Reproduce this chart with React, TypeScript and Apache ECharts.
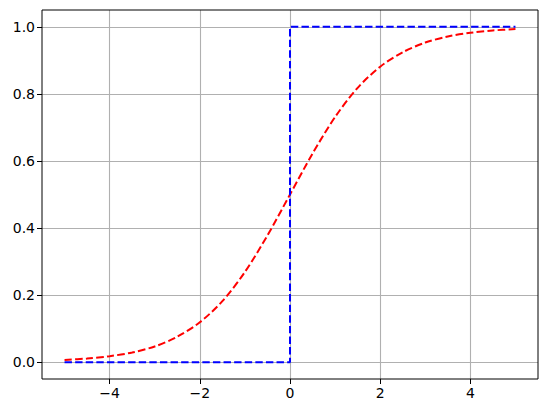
import React, { useEffect, useRef } from "react";
import * as echarts from "echarts";

const sigmoidX = [-5, -4.5, -4, -3.5, -3, -2.5, -2, -1.5, -1, -0.5, 0, 0.5, 1, 1.5, 2, 2.5, 3, 3.5, 4, 4.5, 5];
const sigmoidY = [0.007, 0.011, 0.018, 0.029, 0.047, 0.076, 0.119, 0.182, 0.269, 0.378, 0.5, 0.622, 0.731, 0.818, 0.881, 0.924, 0.953, 0.971, 0.982, 0.989, 0.993];
const stepX = [-5, 0, 0, 5];
const stepY = [0, 0, 1, 1];
const xTicks = [-4, -2, 0, 2, 4];
const yTicks = [0, 0.2, 0.4, 0.6, 0.8, 1.0];

export default function App() {
  const ref = useRef<HTMLDivElement>(null);
  useEffect(() => {
    if (!ref.current) return;
    const chart = echarts.init(ref.current, undefined, { renderer: "svg" });
    const font = "DejaVu Sans";
    chart.setOption({
      animation: false,
      backgroundColor: "#ffffff",
      grid: { left: 42, right: 9, top: 10, bottom: 34, show: true, borderColor: "#000", borderWidth: 1, backgroundColor: "transparent", z: 10 },
      xAxis: {
        type: "value",
        min: -5.5,
        max: 5.5,
        axisLine: { show: false, onZero: false },
        axisTick: { show: true, length: 5, lineStyle: { color: "#000", width: 1 }, customValues: xTicks },
        axisLabel: {
          customValues: xTicks,
          color: "#000",
          fontFamily: font,
          fontSize: 14,
          margin: 7,
          formatter: (v: number) => (v < 0 ? "\u2212" + Math.abs(v) : String(v)),
        },
        splitLine: { show: true, lineStyle: { color: "#b0b0b0", width: 1.1 } },
      },
      yAxis: {
        type: "value",
        min: -0.05,
        max: 1.05,
        axisLine: { show: false, onZero: false },
        axisTick: { show: true, length: 5, lineStyle: { color: "#000", width: 1 }, customValues: yTicks },
        axisLabel: {
          customValues: yTicks,
          color: "#000",
          fontFamily: font,
          fontSize: 14,
          margin: 7,
          formatter: (v: number) => v.toFixed(1),
        },
        splitLine: { show: true, lineStyle: { color: "#b0b0b0", width: 1.1 } },
      },
      series: [
        {
          type: "line",
          data: sigmoidX.map((x, i) => [x, sigmoidY[i]]),
          showSymbol: false,
          smooth: 0.3,
          lineStyle: { color: "#ff0000", width: 2, type: [7.4, 3.2] },
          z: 3,
        },
        {
          type: "line",
          data: stepX.map((x, i) => [x, stepY[i]]),
          showSymbol: false,
          lineStyle: { color: "#0000ff", width: 2, type: [7.4, 3.2] },
          z: 4,
        },
      ],
    });
    return () => chart.dispose();
  }, []);
  return <div ref={ref} style={{ width: 547, height: 413, position: "absolute", left: 0, top: 0 }} />;
}
